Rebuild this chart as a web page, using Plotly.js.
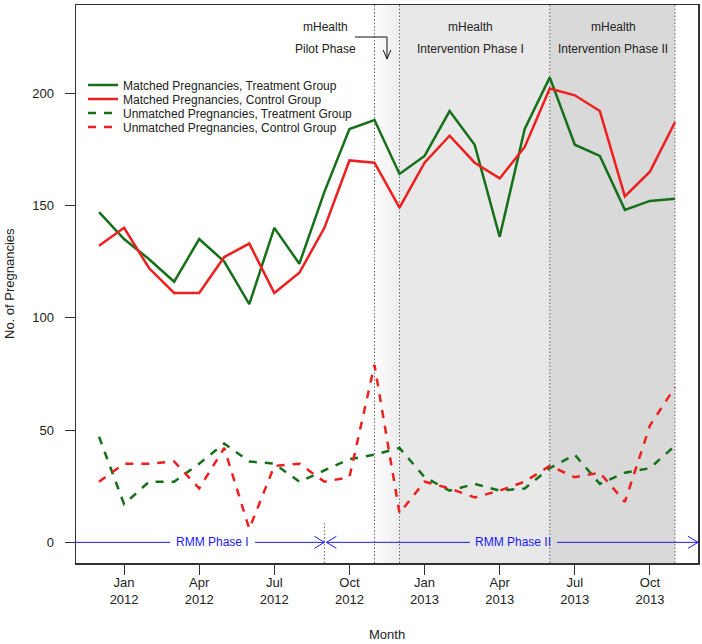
<!DOCTYPE html>
<html><head><meta charset="utf-8">
<script src="https://cdn.plot.ly/plotly-3.0.1.min.js"></script>
<style>html,body{margin:0;padding:0;background:#fff}</style>
</head><body><div id="chart" style="width:702px;height:644px"></div>
<script>
// ---- data ----
const monthIndex = [0,1,2,3,4,5,6,7,8,9,10,11,12,13,14,15,16,17,18,19,20,21,22,23]; // Dec 2011 .. Nov 2013
const tickVals = [1,4,7,10,13,16,19,22];
const tickText = ['Jan<br>2012','Apr<br>2012','Jul<br>2012','Oct<br>2012','Jan<br>2013','Apr<br>2013','Jul<br>2013','Oct<br>2013'];
const yTickVals = [0,50,100,150,200];
const matchedTreatment   = [147,135,126,116,135,125,106,140,124,156,184,188,164,172,192,177,136,184,207,177,172,148,152,153];
const matchedControl     = [132,140,122,111,111,127,133,111,120,140,170,169,149,169,181,169,162,176,202,199,192,154,165,187];
const unmatchedTreatment = [47,17,27,27,35,44,36,35,27,32,37,39,42,29,23,26,23,24,33,39,26,31,33,43];
const unmatchedControl   = [27,35,35,36,24,42,6,34,35,27,29,79,13,27,24,20,23,27,34,29,31,18,52,69];
const seriesNames = ['Matched Pregnancies, Treatment Group','Matched Pregnancies, Control Group',
                     'Unmatched Pregnancies, Treatment Group','Unmatched Pregnancies, Control Group'];
const phaseBounds = {rmmSplit: 9, pilotStart: 11, int1Start: 12, int2Start: 18, end: 23};

// ---- geometry ----
const W = 702, H = 644, L = 76, R = 4, T = 5, B = 81;
const PW = W - L - R, PH = H - T - B;
const XR = [-0.92, 23.92], YR = [-9.2, 239.2];
const px = x => (x - L) / PW;            // pixel -> paper x
const py = y => (H - B - y) / PH;        // pixel -> paper y
const xPix = m => L + (m - XR[0]) / (XR[1] - XR[0]) * PW;
const yPix = v => H - B - (v - YR[0]) / (YR[1] - YR[0]) * PH;

const GREEN = '#16701a', RED = '#ee1f1f', BLUE = '#1a1aff', FONT = 'Liberation Sans, Arial, Helvetica, sans-serif';
const DASH = '8px,8px';

function pline(x0, y0, x1, y1, color, width, dash, layer) {
  return {type: 'line', xref: 'paper', yref: 'paper', x0: px(x0), y0: py(y0), x1: px(x1), y1: py(y1),
          line: {color: color, width: width, dash: dash || 'solid'}, layer: layer || 'above'};
}
function vhead(tx, ty, dx, dy, len, half, color, width) {
  const nx = -dy, ny = dx;
  const bx = tx - dx * len, by = ty - dy * len;
  return [pline(bx + nx * half, by + ny * half, tx, ty, color, width),
          pline(bx - nx * half, by - ny * half, tx, ty, color, width)];
}

const traces = [
  {x: monthIndex, y: matchedTreatment, name: seriesNames[0], legend: 'legend', mode: 'lines', line: {color: GREEN, width: 2.5}},
  {x: monthIndex, y: matchedControl, name: seriesNames[1], legend: 'legend2', mode: 'lines', line: {color: RED, width: 2.5}},
  {x: monthIndex, y: unmatchedTreatment, name: seriesNames[2], legend: 'legend3', mode: 'lines', line: {color: GREEN, width: 2.5, dash: DASH}},
  {x: monthIndex, y: unmatchedControl, name: seriesNames[3], legend: 'legend4', mode: 'lines', line: {color: RED, width: 2.5, dash: DASH}}
];

const shapes = [];
const pilotShades = ['#fbfbfb','#f8f8f8','#f5f5f5','#f1f1f1','#eeeeee'];
pilotShades.forEach((c, i) => {
  shapes.push({type: 'rect', xref: 'x', yref: 'paper', x0: phaseBounds.pilotStart + i / 5, x1: phaseBounds.pilotStart + (i + 1) / 5,
               y0: 0, y1: 1, fillcolor: c, line: {width: 0}, layer: 'below'});
});
shapes.push({type: 'rect', xref: 'x', yref: 'paper', x0: phaseBounds.int1Start, x1: phaseBounds.int2Start, y0: 0, y1: 1,
             fillcolor: '#e8e8e8', line: {width: 0}, layer: 'below'});
shapes.push({type: 'rect', xref: 'x', yref: 'paper', x0: phaseBounds.int2Start, x1: phaseBounds.end, y0: 0, y1: 1,
             fillcolor: '#d9d9d9', line: {width: 0}, layer: 'below'});
[phaseBounds.pilotStart, phaseBounds.int1Start, phaseBounds.int2Start, phaseBounds.end].forEach(m => {
  shapes.push({type: 'line', xref: 'x', yref: 'paper', x0: m, x1: m, y0: 0, y1: 1,
               line: {color: '#666', width: 1, dash: '1.5px,2px'}, layer: 'below'});
});
shapes.push({type: 'line', xref: 'x', yref: 'y', x0: phaseBounds.rmmSplit, x1: phaseBounds.rmmSplit, y0: YR[0], y1: 8.6,
             line: {color: '#666', width: 1, dash: '1.5px,2px'}, layer: 'below'});

// RMM arrows on y = 0
const y0p = yPix(0);
const splitPx = xPix(phaseBounds.rmmSplit);
shapes.push(pline(L, y0p, 170, y0p, BLUE, 1));
shapes.push(pline(255, y0p, splitPx, y0p, BLUE, 1));
shapes.push(pline(splitPx + 2, y0p, 470, y0p, BLUE, 1));
shapes.push(pline(557, y0p, W - R, y0p, BLUE, 1));
shapes.push(...vhead(splitPx, y0p, 1, 0, 10, 6, BLUE, 1));
shapes.push(...vhead(splitPx + 2, y0p, -1, 0, 10, 6, BLUE, 1));
shapes.push(...vhead(W - R, y0p, 1, 0, 10, 6, BLUE, 1));

// pilot phase bent arrow
shapes.push(pline(355, 37, 387, 37, '#111', 1));
shapes.push(pline(387, 37, 387, 59, '#111', 1));
shapes.push(...vhead(387, 59, 0, 1, 9, 3.8, '#111', 1));

function ann(text, x, y, opts) {
  return Object.assign({text: text, xref: 'paper', yref: 'paper', x: px(x), y: py(y), showarrow: false,
    xanchor: 'center', yanchor: 'middle', font: {family: FONT, size: 12, color: '#222'}}, opts || {});
}
const annotations = [
  ann('mHealth', 325, 27), ann('Pilot Phase', 325, 49),
  ann('mHealth', 470, 27), ann('Intervention Phase I', 470, 49),
  ann('mHealth', 613, 27), ann('Intervention Phase II', 613, 49),
  ann('RMM Phase I', 212.3, y0p, {font: {family: FONT, size: 12, color: BLUE}}),
  ann('RMM Phase II', 513.3, y0p, {font: {family: FONT, size: 12, color: BLUE}}),
  ann('No. of Pregnancies', 9, 284, {textangle: -90, font: {family: FONT, size: 13, color: '#222'}}),
  ann('Month', 387, 634, {font: {family: FONT, size: 13, color: '#222'}})
];

function leg(rowY) {
  return {x: px(83), y: py(rowY), xanchor: 'left', yanchor: 'middle', bgcolor: 'rgba(0,0,0,0)', borderwidth: 0,
          font: {family: FONT, size: 12, color: '#222'}};
}

const layout = {
  width: W, height: H, margin: {l: L, r: R, t: T, b: B},
  paper_bgcolor: '#fff', plot_bgcolor: '#fff', showlegend: true,
  legend: leg(85), legend2: leg(99), legend3: leg(113), legend4: leg(127),
  xaxis: {range: XR, tickvals: tickVals, ticktext: tickText, ticks: 'outside', ticklen: 10, tickwidth: 1, tickcolor: '#333',
          showline: true, mirror: true, linecolor: '#333', linewidth: 1.5, showgrid: false, zeroline: false,
          ticklabelstandoff: -3, tickfont: {family: FONT, size: 13, color: '#222'}},
  yaxis: {range: YR, tickvals: yTickVals, ticks: 'outside', ticklen: 10, tickwidth: 1, tickcolor: '#333',
          showline: true, mirror: true, linecolor: '#333', linewidth: 1.5, showgrid: false, zeroline: false,
          ticklabelstandoff: 8, tickfont: {family: FONT, size: 13, color: '#222'}},
  shapes: shapes, annotations: annotations, hovermode: false
};
Plotly.newPlot('chart', traces, layout, {displayModeBar: false, staticPlot: true});
</script></body></html>
